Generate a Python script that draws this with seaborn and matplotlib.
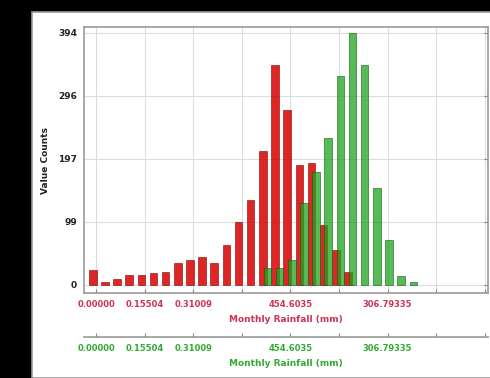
import numpy as np
import pandas as pd
import seaborn as sns
import matplotlib.pyplot as plt
from matplotlib.patches import Rectangle

# Histogram counts per bin (bin index along the shared x axis)
red_bins = list(range(0, 22))
red_counts = [24, 5, 10, 16, 16, 19, 21, 34, 39, 43, 34, 63, 99, 133, 209,
              343, 273, 188, 190, 94, 55, 21]
green_bins = list(range(14, 27))
green_counts = [26, 26, 39, 128, 177, 230, 326, 394, 344, 151, 70, 14, 5]

tick_labels = ["0.00000", "0.15504", "0.31009", "", "454.6035", "",
               "306.79335", "", ""]
y_tick_labels = ["0", "99", "197", "296", "394"]

red_df = pd.DataFrame({"bin": red_bins, "count": red_counts})
green_df = pd.DataFrame({"bin": green_bins, "count": green_counts})

sns.set_style("whitegrid")
plt.rcParams['font.family'] = ['DejaVu Sans']

RED = "#d80000"
RED_TXT = "#cc3355"
GREEN = "#1ea51e"
GREEN_TXT = "#33aa33"

fig = plt.figure(figsize=(4.9, 3.78), dpi=100, facecolor="black")
# white panel inside the black frame
fig.patches.append(Rectangle((32 / 490, 0), 1, 1 - 12 / 378, transform=fig.transFigure,
                             facecolor="white", edgecolor="#999999", lw=1.2, zorder=-10))

ax = fig.add_axes([84 / 490, 1 - 293 / 378, 404 / 490, 266 / 378])
ax.set_facecolor("white")

sns.histplot(data=red_df, x="bin", weights="count", discrete=True, shrink=0.62,
             color=RED, alpha=0.85, edgecolor="#8a0000", linewidth=0.4, ax=ax)

xmin, xmax = -0.72, 32.53
ax.set_xlim(xmin, xmax)
ax.set_ylim(-12.5, 403)
tick_pos = [0.27 + 4 * j for j in range(9)]
ax.set_xticks(tick_pos)
ax.set_xticklabels(tick_labels, color=RED_TXT, fontsize=6, fontweight="bold")
ax.set_yticks(np.linspace(0, 394, 5))
ax.set_yticklabels(y_tick_labels, fontsize=6.5, fontweight="bold", color="#222222")
ax.set_xlabel("Monthly Rainfall (mm)", color=RED_TXT, fontsize=6.5, fontweight="bold",
              labelpad=4)
ax.set_ylabel("Value Counts", fontsize=6.5, fontweight="bold", color="#222222", labelpad=6)
ax.tick_params(direction="in", length=3, color="#888888", top=True, right=True, pad=5)
ax.grid(True, color="#dddddd", lw=0.8)
for s in ax.spines.values():
    s.set_color("#999999")
    s.set_linewidth(1.2)

# second (green) x axis, offset below the first one
ax2 = ax.twiny()
shift = 0.38
sns.histplot(data=green_df, x="bin", weights="count", discrete=True, shrink=0.62,
             color=GREEN, alpha=0.75, edgecolor="#0e5e0e", linewidth=0.4, ax=ax2)
ax2.set_xlim(xmin - shift, xmax - shift)
ax2.set_ylim(-12.5, 403)
ax2.xaxis.set_ticks_position("bottom")
ax2.xaxis.set_label_position("bottom")
ax2.spines["bottom"].set_position(("outward", 31.7))
ax2.set_xticks([p - shift for p in tick_pos])
ax2.set_xticklabels(tick_labels, color=GREEN_TXT, fontsize=6, fontweight="bold")
ax2.set_xlabel("Monthly Rainfall (mm)", color=GREEN_TXT, fontsize=6.5, fontweight="bold",
               labelpad=4)
ax2.set_ylabel("")
ax2.tick_params(direction="in", length=3, color="#888888", pad=5)
ax2.grid(False)
for name, s in ax2.spines.items():
    s.set_visible(name == "bottom")
ax2.spines["bottom"].set_color("#999999")
ax2.spines["bottom"].set_linewidth(1.2)

fig.savefig("out.png", dpi=100, facecolor=fig.get_facecolor())
